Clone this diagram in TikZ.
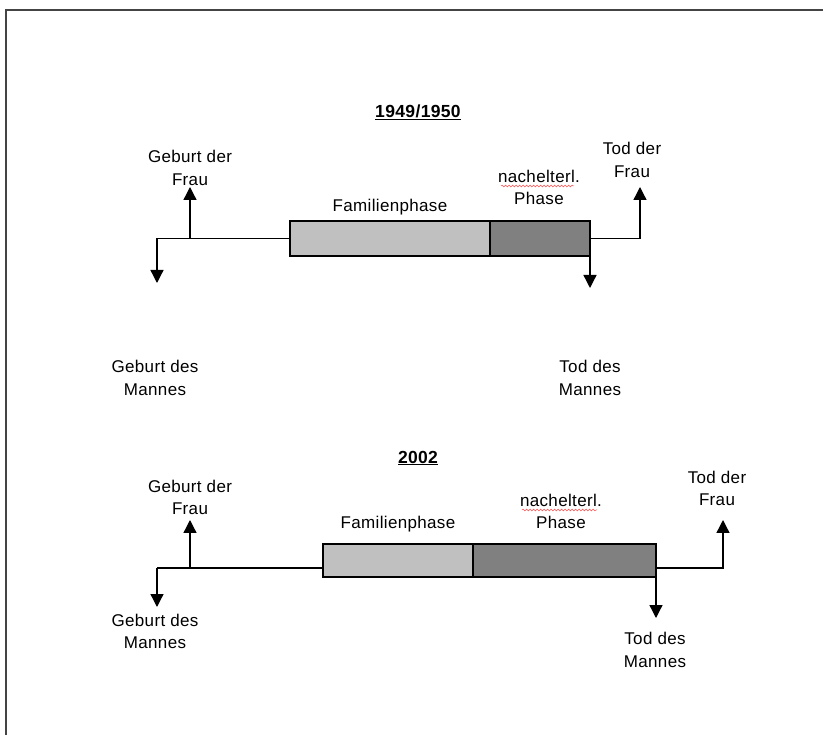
\documentclass[tikz,border=0pt]{standalone}
\usepackage{fontspec}
\setmainfont{Liberation Sans}[LetterSpace=2]
\usetikzlibrary{arrows.meta,decorations.pathmorphing}
\definecolor{lightbar}{HTML}{C0C0C0}
\definecolor{darkbar}{HTML}{808080}
\definecolor{framecol}{HTML}{444444}
\begin{document}
\begin{tikzpicture}[x=1pt,y=-1pt,
  lbl/.style={align=center,inner sep=0pt,font=\fontsize{17}{22.5}\selectfont},
  ttl/.style={inner sep=0pt,font=\fontsize{17.5}{22}\selectfont\bfseries},
  bar/.style={draw=black,line width=1.3pt,inner sep=0pt,outer sep=0pt},
  conn/.style={line width=1.3pt},
  arr/.style={line width=1.3pt,-{Triangle[width=13pt,length=13pt]}},
  squig/.style={red!70,line width=0.5pt,decorate,decoration={snake,amplitude=0.9pt,segment length=3.5pt}}]
\useasboundingbox (0,0) rectangle (823,735);
% frame
\draw[framecol,line width=1.8pt] (6,735) -- (6,10) -- (823,10);

% ---------- 1949/1950 ----------
\node[ttl] (t1) at (418,112) {\underline{1949/1950}};
\node[bar,fill=lightbar,minimum width=200pt,minimum height=35pt] (fam1) at (390,238.5) {};
\node[bar,fill=darkbar,minimum width=100pt,minimum height=35pt] (nach1) at (540,238.5) {};
\node[lbl] (famt1) at (390,207) {Familienphase};
\node[lbl] (nacht1) at (539,187.5) {nachelterl.\\Phase};
\draw[squig] (501,186) -- (574,186);
\coordinate (l1) at (157,238.5);
\coordinate (gf1b) at (190,238.5);
\coordinate (gf1t) at (190,187);
\coordinate (gm1t) at (157,283);
\coordinate (tf1c) at (640,238.5);
\coordinate (tf1t) at (640,187);
\coordinate (tm1t) at (590,288);
\node[lbl] (gf1) at (190,168) {Geburt der\\Frau};
\node[lbl] (tf1) at (632,160) {Tod der\\Frau};
\node[lbl] (gm1) at (155,378) {Geburt des\\Mannes};
\node[lbl] (tm1) at (590,378) {Tod des\\Mannes};
\draw[conn] (l1) -- (fam1.west);
\draw[arr] (gf1b) -- (gf1t);
\draw[arr] (l1) -- (gm1t);
\draw[arr] (nach1.east) -- (tf1c) -- (tf1t);
\draw[arr] (nach1.south east) -- (tm1t);

% ---------- 2002 ----------
\node[ttl] (t2) at (418,458) {\underline{2002}};
\node[bar,fill=lightbar,minimum width=150pt,minimum height=33pt] (fam2) at (398,560.5) {};
\node[bar,fill=darkbar,minimum width=183pt,minimum height=33pt] (nach2) at (564.5,560.5) {};
\node[lbl] (famt2) at (398,524) {Familienphase};
\node[lbl] (nacht2) at (561,511.5) {nachelterl.\\Phase};
\draw[squig] (522,510) -- (597,510);
\coordinate (l2) at (157,568);
\coordinate (gf2b) at (190,568);
\coordinate (gf2t) at (190,520);
\coordinate (gm2t) at (157,607);
\coordinate (tf2c) at (723,568);
\coordinate (tf2t) at (723,520);
\coordinate (tm2t) at (656,618);
\node[lbl] (gf2) at (190,497.5) {Geburt der\\Frau};
\node[lbl] (tf2) at (717,488.5) {Tod der\\Frau};
\node[lbl] (gm2) at (155,631.5) {Geburt des\\Mannes};
\node[lbl] (tm2) at (655,650) {Tod des\\Mannes};
\draw[conn] (l2) -- (l2 -| fam2.west);
\draw[arr] (gf2b) -- (gf2t);
\draw[arr] (l2) -- (gm2t);
\draw[arr] (tf2c -| nach2.east) -- (tf2c) -- (tf2t);
\draw[arr] (nach2.south east) -- (tm2t);
\end{tikzpicture}
\end{document}
